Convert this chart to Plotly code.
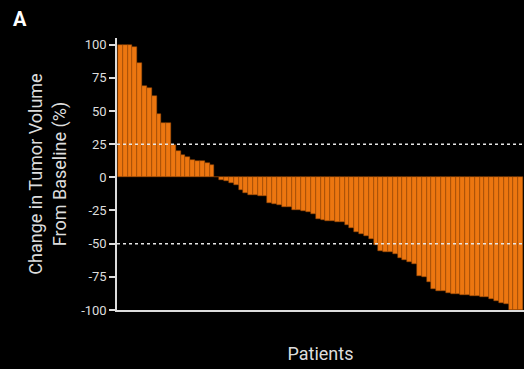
import plotly.graph_objects as go

# Best percent change in tumour volume per patient, sorted high to low
patients = [f"P{i:02d}" for i in range(1, 85)]
change_pct = [
    100, 100, 100,
    98, 86, 69, 67, 61, 48, 41, 41,
    24, 20, 17, 15, 13, 12, 12, 11, 9, 0,
    -2, -3, -4, -6, -9.5, -12, -13, -13.5, -14, -14,
    -19.5, -20, -21, -22, -22.5, -24.5, -25, -25.5, -26,
    -28, -31.5, -32.5, -33, -33, -33.5,
    -34, -36, -38, -41, -43, -44.5, -46.5, -51,
    -55.5, -56, -56.5, -58, -61, -62, -64, -65,
    -74, -75, -79, -84, -85.5, -86, -87, -88, -88, -88.5, -89, -89.5,
    -89.5, -90, -90.5, -91.5, -93.5, -95, -95.5, -100, -100, -100,
]
y_ticks = [100, 75, 50, 25, 0, -25, -50, -75, -100]
y_tick_text = ["100", "75", "50", "25", "0", "-25", "-50", "-75", "-100"]
reference_levels = [25, -50]

fig = go.Figure(
    go.Bar(
        x=patients,
        y=change_pct,
        marker=dict(color="#EC7610", line=dict(color="#9A4A06", width=0.5)),
    )
)

for level in reference_levels:
    fig.add_shape(
        type="line", xref="paper", yref="y",
        x0=0, x1=1, y0=level, y1=level,
        line=dict(color="#E6E6E6", width=1.5, dash="dot"),
        layer="above",
    )

fig.add_annotation(
    text="<b>A</b>", xref="paper", yref="paper",
    x=-0.238, y=1.07, xanchor="center", yanchor="middle",
    showarrow=False, font=dict(size=20, color="white", family="Roboto"),
)

fig.update_layout(
    width=524, height=369,
    margin=dict(l=117, r=0, t=38, b=59),
    paper_bgcolor="black", plot_bgcolor="black",
    bargap=0,
    showlegend=False,
    font=dict(family="Roboto", color="#DDDDDD"),
    xaxis=dict(
        showticklabels=False, ticks="", showgrid=False, zeroline=False,
        showline=True, linecolor="#DDDDDD", linewidth=2,
        range=[-0.7, len(patients) - 0.3],
        title=dict(text="Patients", font=dict(size=18, color="#DDDDDD"), standoff=36),
    ),
    yaxis=dict(
        range=[-100, 105],
        tickvals=y_ticks, ticktext=y_tick_text,
        ticks="outside", ticklen=6, tickwidth=1.5, tickcolor="#DDDDDD",
        tickfont=dict(size=13, color="#DDDDDD"),
        showgrid=False, zeroline=False,
        showline=True, linecolor="#DDDDDD", linewidth=1.5,
        title=dict(text="Change in Tumor Volume<br>From Baseline (%)",
                   font=dict(size=18, color="#DDDDDD"), standoff=10),
    ),
)

fig.write_html("out.html")
